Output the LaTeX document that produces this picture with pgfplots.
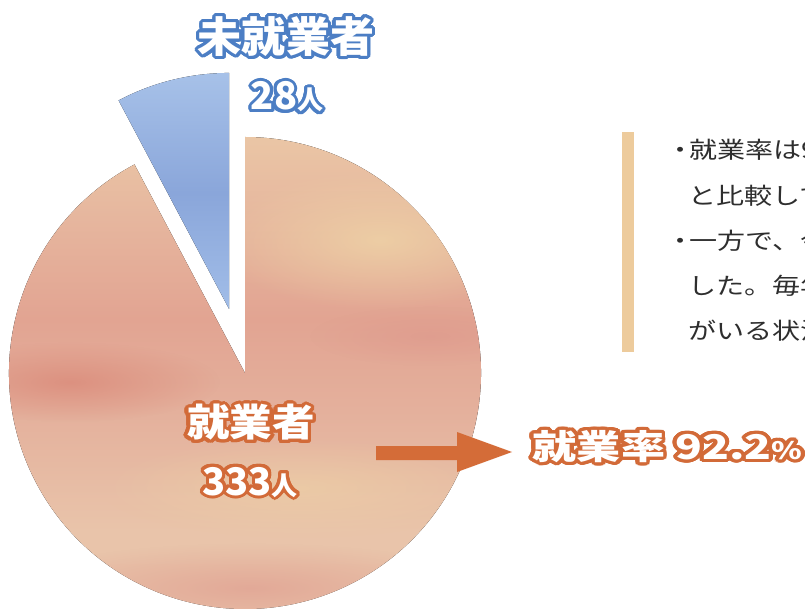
\documentclass[border=0pt]{standalone}
\usepackage{pgfplots}
\pgfplotsset{compat=1.18}
\usepackage{pgfplotstable}
\usetikzlibrary{fadings}
\usepackage{fontspec}
\usepackage{contour}
\newfontfamily\jp{Noto Sans CJK JP}
\contournumber{32}

\definecolor{boxbar}{HTML}{EDCB9C}
\definecolor{bodytext}{HTML}{2E2E2E}
\definecolor{outor}{HTML}{D26A38}
\definecolor{outbl}{HTML}{4C7EC4}
\definecolor{arrowor}{HTML}{D46C38}

\definecolor{p0}{RGB}{224,164,150}
\definecolor{p1}{RGB}{226,170,152}
\definecolor{p2}{RGB}{233,194,168}
\definecolor{p3}{RGB}{233,196,170}
\definecolor{p4}{RGB}{228,176,156}
\definecolor{p5}{RGB}{226,164,146}
\definecolor{p6}{RGB}{230,182,158}
\definecolor{p7}{RGB}{236,204,168}
\definecolor{p8}{RGB}{232,186,152}
\definecolor{p9}{RGB}{228,172,142}
\definecolor{ba}{RGB}{140,168,220}
\definecolor{bb}{RGB}{168,196,236}
\definecolor{bc}{RGB}{138,166,218}
\definecolor{bd}{RGB}{174,200,236}
\definecolor{be}{RGB}{140,170,222}
\definecolor{wy}{RGB}{238,210,166}
\definecolor{wr}{RGB}{218,136,120}
\definecolor{wp}{RGB}{222,152,140}

% watercolour-ish bands, bottom to top
\pgfdeclareverticalshading{peach}{100bp}{%
  color(0bp)=(p0); color(10bp)=(p1); color(23bp)=(p2); color(36bp)=(p3);
  color(48bp)=(p4); color(57bp)=(p5); color(67bp)=(p6); color(78bp)=(p7);
  color(89bp)=(p8); color(100bp)=(p9)}
\pgfdeclareverticalshading{sky}{100bp}{%
  color(0bp)=(ba); color(30bp)=(bb); color(55bp)=(bc); color(80bp)=(bd);
  color(100bp)=(be)}
\tikzfading[name=soft, inner color=transparent!0, outer color=transparent!100]

\pgfplotstableread{
label value
1 333
2 28
}\pietable

\begin{document}
\begin{tikzpicture}
\pgfplotstablegetelem{0}{value}\of\pietable \let\vemp\pgfplotsretval
\pgfplotstablegetelem{1}{value}\of\pietable \let\vnot\pgfplotsretval
\pgfmathsetmacro\total{\vemp+\vnot}
\pgfmathsetmacro\angnot{360*\vnot/\total}
\pgfmathsetmacro\aend{90+\angnot}
\pgfmathsetmacro\amid{90+\angnot/2}
\useasboundingbox (0,0) rectangle (805pt,608pt);
\clip (0,0) rectangle (805pt,608pt);
\begin{axis}[
  at={(0,0)}, anchor=south west,
  x=1pt, y=1pt, scale only axis,
  xmin=0, xmax=805, ymin=0, ymax=608,
  hide axis, clip=false,
]
% 就業者
\fill[shading=peach] (axis cs:245,235) -- ++(\aend:236pt)
  arc[start angle=\aend, end angle=450, radius=236pt] -- cycle;
\begin{scope}
  \clip (axis cs:245,235) -- ++(\aend:236pt)
    arc[start angle=\aend, end angle=450, radius=236pt] -- cycle;
  \fill[wy, opacity=.85, path fading=soft] (axis cs:380,368) ellipse[x radius=170pt, y radius=70pt];
  \fill[wr, opacity=.75, path fading=soft] (axis cs:70,226) ellipse[x radius=150pt, y radius=40pt];
  \fill[wp, opacity=.6, path fading=soft] (axis cs:430,272) ellipse[x radius=120pt, y radius=30pt];
  \fill[wp, opacity=.6, path fading=soft] (axis cs:250,20) ellipse[x radius=240pt, y radius=45pt];
  \fill[wy, opacity=.6, path fading=soft] (axis cs:300,120) ellipse[x radius=200pt, y radius=50pt];
\end{scope}
% 未就業者 (exploded)
\fill[shading=sky] (axis cs:245,235) ++(\amid:66pt) -- ++(90:236pt)
  arc[start angle=90, end angle=\aend, radius=236pt] -- cycle;

% arrow
\fill[arrowor] (axis cs:376,148) -- (axis cs:457,148) -- (axis cs:457,136)
  -- (axis cs:512,156) -- (axis cs:457,176) -- (axis cs:457,162)
  -- (axis cs:376,162) -- cycle;

\contourlength{3pt}
\node[white, xscale=1.05] at (axis cs:286,570)
  {\jp\bfseries\fontsize{42}{42}\selectfont\contour{outbl}{未就業者}};
\node[white, anchor=base] at (axis cs:287,498)
  {\jp\bfseries\contour{outbl}{\fontsize{38}{38}\selectfont 28\fontsize{26}{26}\selectfont 人}};
\node[white, xscale=1.12] at (axis cs:251,184)
  {\jp\bfseries\fontsize{38}{38}\selectfont\contour{outor}{就業者}};
\node[white, anchor=base] at (axis cs:250,113)
  {\jp\bfseries\contour{outor}{\fontsize{38}{38}\selectfont 333\fontsize{26}{26}\selectfont 人}};
\node[white, anchor=west, xscale=1.3] at (axis cs:528,160)
  {\jp\bfseries\contour{outor}{\fontsize{34}{34}\selectfont 就業率 92.2\fontsize{24}{24}\selectfont\%}};

% note box
\fill[boxbar] (axis cs:622,256) rectangle (axis cs:634,476);
\begin{scope}[every node/.style={anchor=west, inner sep=0pt, text=bodytext,
    xscale=1.22, font=\jp\fontsize{23}{23}\selectfont}]
\node at (axis cs:666,458) {・\kern-4pt 就業率は92.2％で、昨年度};
\node at (axis cs:688,412) {と比較して};
\node at (axis cs:666,367) {・\kern-4pt 一方で、今年度};
\node at (axis cs:688,322) {した。毎年};
\node at (axis cs:688,277) {がいる状況};
\end{scope}
\end{axis}
\end{tikzpicture}
\end{document}
